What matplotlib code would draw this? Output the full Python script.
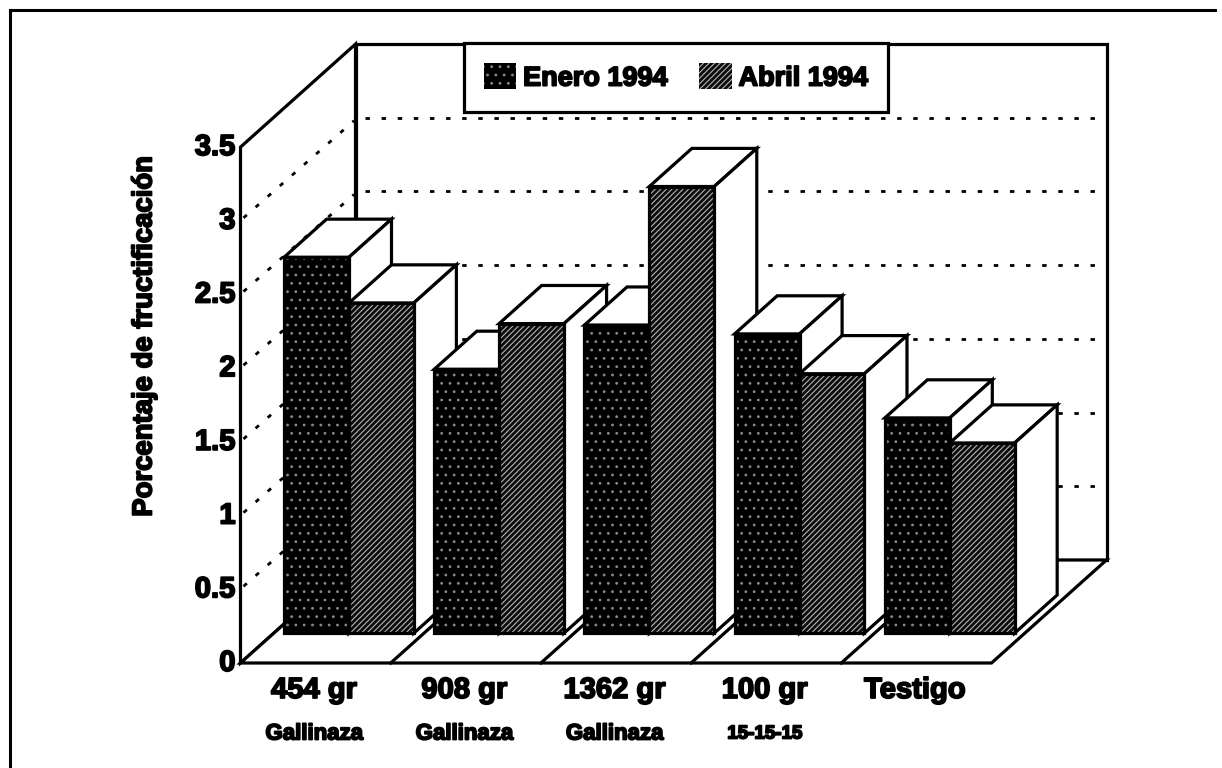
import matplotlib
matplotlib.use("Agg")
import matplotlib.pyplot as plt
from matplotlib.patches import Polygon, Patch
from matplotlib.lines import Line2D
import matplotlib.patheffects as pe

categories = ["454 gr", "908 gr", "1362 gr", "100 gr", "Testigo"]
subcategories = ["Gallinaza", "Gallinaza", "Gallinaza", "15-15-15", ""]
enero_1994 = [2.55, 1.79, 2.09, 2.03, 1.46]
abril_1994 = [2.24, 2.10, 3.03, 1.76, 1.29]
y_ticks = [0, 0.5, 1, 1.5, 2, 2.5, 3, 3.5]
y_tick_labels = ["0", "0.5", "1", "1.5", "2", "2.5", "3", "3.5"]
y_label = "Porcentaje de fructificación"
series_names = ["Enero 1994", "Abril 1994"]

W, H = 1222, 768
X0, Y0, PX_CAT, PX_VAL = 240.5, 663, 150.2, 147.4
plt.rcParams["font.family"] = ["Liberation Sans", "DejaVu Sans"]
plt.rcParams["hatch.linewidth"] = 0.8

fig = plt.figure(figsize=(W / 100, H / 100), dpi=100, facecolor="white")
ax = fig.add_axes([0, 0, 1, 1])
ax.set_xlim(-X0 / PX_CAT, (W - X0) / PX_CAT)
ax.set_ylim((Y0 - H) / PX_VAL, Y0 / PX_VAL)
ax.axis("off")

DX, DY = 115 / PX_CAT, 103 / PX_VAL      # full depth of the box
N = len(categories)
TOP = y_ticks[-1]
LW = 2.3
heavy = [pe.withStroke(linewidth=1.3, foreground="black")]

def poly(pts, z, fc="white", lw=LW):
    ax.add_patch(Polygon(pts, closed=True, facecolor=fc, edgecolor="black",
                         linewidth=lw, zorder=z, joinstyle="miter"))

# walls and floor
poly([(DX, DY), (N + DX, DY), (N + DX, DY + TOP), (DX, DY + TOP)], 1)
poly([(0, 0), (DX, DY), (DX, DY + TOP), (0, TOP)], 1)
poly([(0, 0), (N, 0), (N + DX, DY), (DX, DY)], 1)

# dotted gridlines
dots = (0, (1.6, 4.2))
for t in y_ticks[1:-1]:
    ax.plot([0.02, DX - 0.01], [t + 0.02, t + DY - 0.02], color="black", lw=2, ls=dots, zorder=2)
    ax.plot([DX + 0.06, N + DX], [t + DY, t + DY], color="black", lw=2, ls=dots, zorder=2)
# floor dividers
for i in range(1, N):
    ax.plot([i, i + DX], [0, DY], color="black", lw=LW, zorder=2)

# bars
BASE_D = 0.29                # depth fraction of the front face
BAR_D = 0.37                 # depth fraction of the bar
BW = 0.432
LEFT = 0.29
bx = DX * BAR_D
by = DY * BAR_D
base = DY * BASE_D
z = 3
styles = [dict(face="#000000", hatch_col="#8a8a8a", hatch=".."),
          dict(face="#0c0c0c", hatch_col="#b4b4b4", hatch="//////")]
for i in range(N):
    for j, vals in enumerate((enero_1994, abril_1994)):
        v = vals[i]
        x = i + LEFT + j * BW
        s = styles[j]
        poly([(x, base + v), (x + BW, base + v), (x + BW + bx, base + v + by), (x + bx, base + v + by)], z)
        poly([(x + BW, base), (x + BW + bx, base + by), (x + BW + bx, base + v + by), (x + BW, base + v)], z)
        ax.bar(x, v, BW, bottom=base, align="edge", facecolor=s["face"], edgecolor=s["hatch_col"],
               hatch=s["hatch"], linewidth=0, zorder=z + 0.1)
        ax.bar(x, v, BW, bottom=base, align="edge", facecolor="none", edgecolor="black",
               linewidth=LW, zorder=z + 0.2)
        z += 1

# tick labels
for t, lab in zip(y_ticks, y_tick_labels):
    ax.text(-5 / PX_CAT, t, lab, ha="right", va="center", fontsize=21, fontweight="bold", path_effects=heavy)
ax.text(-96 / PX_CAT, 2.22, y_label, rotation=90, ha="center", va="center", fontsize=19.8,
        fontweight="bold", path_effects=heavy)
for i, (c, s) in enumerate(zip(categories, subcategories)):
    ax.text(i + 0.49, -27 / PX_VAL, c, ha="center", va="center", fontsize=21, fontweight="bold", path_effects=heavy)
    if s:
        ax.text(i + 0.49, -71 / PX_VAL, s, ha="center", va="center", fontsize=16 if i < 3 else 13.5,
                fontweight="bold", path_effects=heavy)

# legend
handles = [Patch(facecolor=styles[k]["face"], edgecolor=styles[k]["hatch_col"], hatch=styles[k]["hatch"], linewidth=0)
           for k in range(2)]
leg = ax.legend(handles, series_names, ncol=2, loc="center",
                bbox_to_anchor=(676 / W, 1 - 77.5 / H), bbox_transform=fig.transFigure,
                fontsize=19.5, frameon=True, fancybox=False, edgecolor="black", framealpha=1,
                handlelength=1.2, handleheight=1.1, handletextpad=0.25, columnspacing=1.16,
                borderpad=0.75, borderaxespad=0)
leg.get_frame().set_linewidth(LW)
leg.set_zorder(200)
for t in leg.get_texts():
    t.set_fontweight("bold")
    t.set_path_effects(heavy)

# page frame
fig.add_artist(Line2D([10 / W, 10 / W], [0, 1 - 10 / H], color="black", lw=2.2))
fig.add_artist(Line2D([10 / W, 1215 / W], [1 - 10 / H, 1 - 10 / H], color="black", lw=2.2))

fig.savefig("out.png", dpi=100, facecolor="white")
